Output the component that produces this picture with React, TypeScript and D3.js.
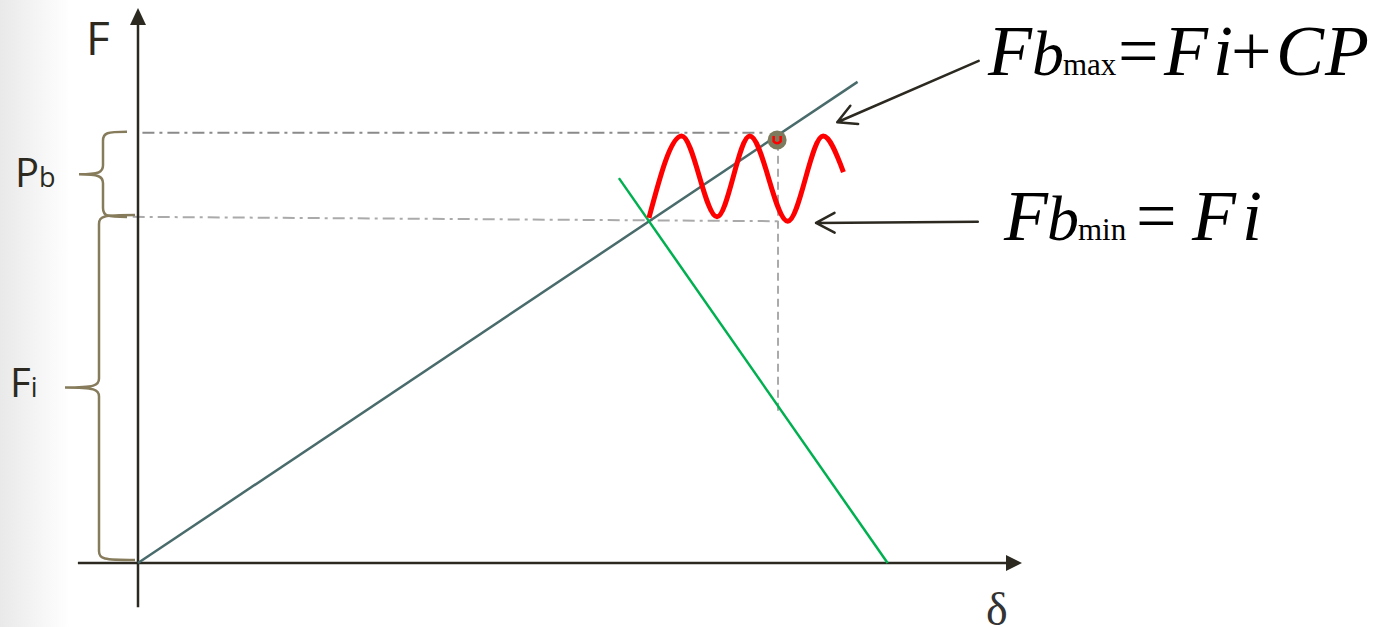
import React from 'react';
import * as d3 from 'd3';

const W = 1377;
const H = 627;

// axis extents (δ across, F up), arbitrary units
const deltaExtent = [-6.8, 100];
const forceExtent = [-8, 100];

const boltLine = [{ d: 0, f: 0 }, { d: 81.4, f: 87.0 }];
const memberLine = [{ d: 54.4, f: 69.6 }, { d: 84.8, f: 0 }];

const Fi = 62.4;
const FbMax = 77.8;

const maxGuide = [{ d: 0.5, f: 77.8 }, { d: 71.2, f: 77.8 }];
const minGuide = [{ d: -0.6, f: 62.6 }, { d: 72.9, f: 61.8 }];
const peakDrop = [{ d: 72.4, f: 76.0 }, { d: 72.4, f: 26.9 }];

// external load oscillating on top of the preload (troughs and crests)
const loadWave = [
  { d: 57.8, f: 62.4 },
  { d: 61.5, f: 77.2 },
  { d: 65.5, f: 62.6 },
  { d: 69.2, f: 77.2 },
  { d: 73.5, f: 61.8 },
  { d: 77.5, f: 77.2 },
  { d: 79.8, f: 70.7 },
];

const maxPoint = { d: 72.3, f: 76.5 };

const maxArrow = [{ d: 95.1, f: 90.8 }, { d: 79.1, f: 79.7 }];
const minArrow = [{ d: 95.0, f: 61.7 }, { d: 76.7, f: 61.5 }];

const x = d3.scaleLinear().domain([0, 100]).range([138, 1022]);
const y = d3.scaleLinear().domain([0, 100]).range([563, 10]);

const line = d3
  .line<{ d: number; f: number }>()
  .x((p) => x(p.d))
  .y((p) => y(p.f));

const waveLine = d3
  .line<{ d: number; f: number }>()
  .x((p) => x(p.d))
  .y((p) => y(p.f))
  .curve(d3.curveMonotoneX);

function brace(xSpine: number, xTip: number, xPoint: number, yTop: number, yBot: number) {
  const yMid = (yTop + yBot) / 2;
  const r = 9;
  return (
    `M${xTip},${yTop} C${xSpine + 4},${yTop} ${xSpine},${yTop + 1} ${xSpine},${yTop + r} ` +
    `L${xSpine},${yMid - r} C${xSpine},${yMid - 2} ${xSpine - 4},${yMid} ${xPoint},${yMid} ` +
    `C${xSpine - 4},${yMid} ${xSpine},${yMid + 2} ${xSpine},${yMid + r} ` +
    `L${xSpine},${yBot - r} C${xSpine},${yBot - 1} ${xSpine + 4},${yBot} ${xTip},${yBot}`
  );
}

function arrow(pts: { d: number; f: number }[]) {
  const x0 = x(pts[0].d), y0 = y(pts[0].f);
  const x1 = x(pts[1].d), y1 = y(pts[1].f);
  const a = Math.atan2(y0 - y1, x0 - x1);
  const len = 21, spread = (28 * Math.PI) / 180;
  const w1 = [x1 + len * Math.cos(a - spread), y1 + len * Math.sin(a - spread)];
  const w2 = [x1 + len * Math.cos(a + spread), y1 + len * Math.sin(a + spread)];
  return `M${x0},${y0} L${x1},${y1} M${w1[0]},${w1[1]} L${x1},${y1} L${w2[0]},${w2[1]}`;
}

const ink = '#2b2920';
const braceColor = '#867b5b';
const sans = '"Open Sans", "DejaVu Sans", sans-serif';
const serif = '"Liberation Serif", "Times New Roman", serif';

export default function App() {
  const ox = x(0), oy = y(0);
  const xEnd = x(deltaExtent[1]), yEnd = y(forceExtent[1]);
  const px = x(maxPoint.d), py = y(maxPoint.f);
  return (
    <svg
      width={W}
      height={H}
      style={{ position: 'absolute', left: 0, top: 0, background: '#fff' }}
    >
      <defs>
        <linearGradient id="edge" x1="0" x2="1" y1="0" y2="0">
          <stop offset="0" stopColor="#e9e9e9" />
          <stop offset="1" stopColor="#ffffff" />
        </linearGradient>
      </defs>
      <rect x={0} y={0} width={70} height={H} fill="url(#edge)" />

      {/* guide lines */}
      <path d={line(maxGuide) || ''} stroke="#8a8a8a" strokeWidth={2} strokeDasharray="12 5 3 5" fill="none" />
      <path d={line(minGuide) || ''} stroke="#aaaaaa" strokeWidth={2} strokeDasharray="12 5 3 5" fill="none" />
      <path d={line(peakDrop) || ''} stroke="#aaaaaa" strokeWidth={2} strokeDasharray="8 5" fill="none" />

      {/* axes */}
      <line x1={x(deltaExtent[0])} y1={oy} x2={xEnd - 10} y2={oy} stroke={ink} strokeWidth={2.5} />
      <path d={`M${xEnd},${oy} L${xEnd - 16},${oy - 8} L${xEnd - 16},${oy + 8} Z`} fill={ink} />
      <line x1={ox} y1={y(forceExtent[0])} x2={ox} y2={yEnd + 10} stroke={ink} strokeWidth={2.5} />
      <path d={`M${ox},${yEnd - 2} L${ox - 8},${yEnd + 15} L${ox + 8},${yEnd + 15} Z`} fill={ink} />

      {/* stiffness lines */}
      <path d={line(boltLine) || ''} stroke="#4a6b6b" strokeWidth={2.5} fill="none" />
      <path d={line(memberLine) || ''} stroke="#00b050" strokeWidth={2.5} fill="none" />

      {/* load */}
      <path d={waveLine(loadWave) || ''} stroke="#ff0000" strokeWidth={5} fill="none" />
      <circle cx={px} cy={py} r={9.5} fill="#7d7a5e" />
      <path
        d={`M${px - 3.5},${py - 4} L${px - 3.5},${py + 1.5} Q${px},${py + 5} ${px + 3.5},${py + 1.5} L${px + 3.5},${py - 4}`}
        stroke="#ff0000"
        strokeWidth={2.5}
        fill="none"
      />

      {/* braces */}
      <path d={brace(103, 127, 79, y(FbMax) - 1, y(Fi) - 1)} stroke={braceColor} strokeWidth={2.5} fill="none" />
      <path d={brace(99, 135, 65, y(Fi) - 3, y(0) - 3)} stroke={braceColor} strokeWidth={2.5} fill="none" />

      {/* axis and brace labels */}
      <text x={86} y={55} fontFamily={sans} fontSize={46} fill={ink}>F</text>
      <text x={986} y={625} fontFamily={serif} fontSize={46} fill="#333">δ</text>
      <text x={15} y={187} fontFamily={sans} fontSize={40} fill={ink}>
        P<tspan fontSize={27}>b</tspan>
      </text>
      <text x={10} y={397} fontFamily={sans} fontSize={40} fill={ink}>
        F<tspan fontSize={27}>i</tspan>
      </text>

      {/* arrows */}
      <path d={arrow(maxArrow)} stroke={ink} strokeWidth={2.5} fill="none" strokeLinecap="round" strokeLinejoin="round" />
      <path d={arrow(minArrow)} stroke={ink} strokeWidth={2.5} fill="none" strokeLinecap="round" strokeLinejoin="round" />

      {/* formulas */}
      <g fontFamily={serif} fill="#000">
        <text x={988} y={75} fontSize={72} fontStyle="italic">F</text>
        <text x={1032} y={75} fontSize={64} fontStyle="italic">b</text>
        <text x={1063} y={75} fontSize={31}>max</text>
        <text x={1118} y={75} fontSize={72}>=</text>
        <text x={1164} y={75} fontSize={72} fontStyle="italic">F</text>
        <text x={1213} y={75} fontSize={72} fontStyle="italic">i</text>
        <text x={1231} y={75} fontSize={72}>+</text>
        <text x={1276} y={75} fontSize={72} fontStyle="italic">C</text>
        <text x={1325} y={75} fontSize={72} fontStyle="italic">P</text>

        <text x={1004} y={240} fontSize={72} fontStyle="italic">F</text>
        <text x={1047} y={240} fontSize={64} fontStyle="italic">b</text>
        <text x={1078} y={240} fontSize={31}>min</text>
        <text x={1136} y={240} fontSize={72}>=</text>
        <text x={1192} y={240} fontSize={72} fontStyle="italic">F</text>
        <text x={1242} y={240} fontSize={72} fontStyle="italic">i</text>
      </g>
    </svg>
  );
}
